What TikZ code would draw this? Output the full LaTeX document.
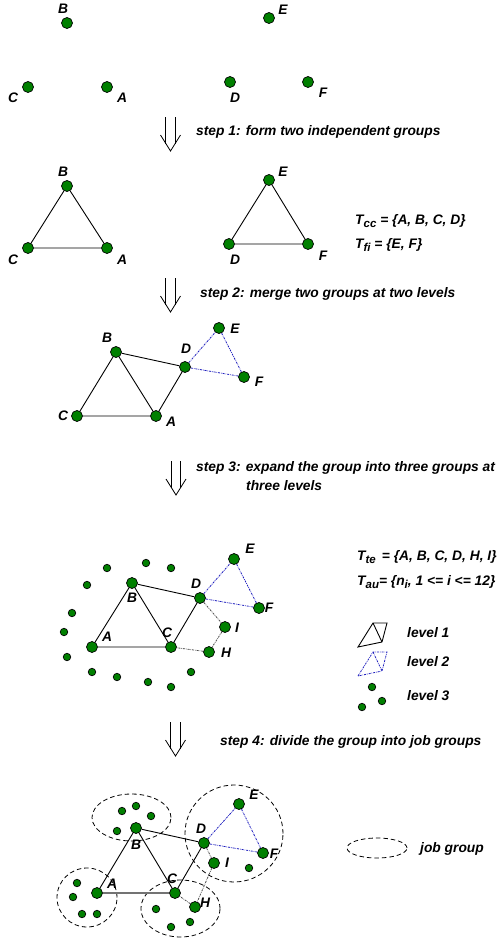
\documentclass[tikz,border=0pt]{standalone}
\usepackage{fontspec}
\setmainfont{Liberation Sans}
\usepackage{xcolor}
\definecolor{cHost}  {RGB}{0,128,0}
\definecolor{cLvlTwo}{RGB}{30,30,190}
\usepackage{tikz}
\usetikzlibrary{shapes.geometric}
\newcommand{\lowsub}[1]{\raisebox{-3.5pt}{\fontsize{11.5}{12}\selectfont #1}}
\tikzset{
  host/.style     = {circle, draw=black, fill=cHost, line width=0.7pt,
                     inner sep=0pt, minimum size=11pt},
  peer/.style     = {host, minimum size=7.5pt},
  lbl/.style      = {font=\fontsize{13.8}{19}\selectfont\bfseries\itshape,
                     inner sep=0pt},
  txt/.style      = {lbl, anchor=west, align=left},
  lvlone/.style   = {line width=0.9pt, black},
  lvltwo/.style   = {line width=0.8pt, cLvlTwo,
                     dash pattern=on 2pt off 1pt on 0.6pt off 1pt},
  lvlthree/.style = {line width=0.8pt, black!70,
                     dash pattern=on 2pt off 1pt on 0.6pt off 1pt},
  jobgrp/.style   = {ellipse, draw, dash pattern=on 4.5pt off 3pt,
                     line width=0.8pt, inner sep=0pt},
  stepdown/.pic   = {\draw[line width=0.8pt] (-4.7,0) -- (-4.7,26.5)
                       (4.7,0) -- (4.7,26.5);
                     \draw[line width=0.8pt] (-10,18) -- (0,34) -- (10,18);},
}

\begin{document}
\begin{tikzpicture}[x=1pt, y=-1pt]
  \useasboundingbox (0,0) rectangle (496,940);

  % scattered hosts
  \node[host] (b1) at (67,23)  {};
  \node[host] (e1) at (269,18) {};
  \node[host] (c1) at (28,87)  {};
  \node[host] (a1) at (107,87) {};
  \node[host] (d1) at (230,82) {};
  \node[host] (f1) at (308,82) {};
  \node[lbl] (b1l) at (63,9)   {B};
  \node[lbl] (e1l) at (283,10) {E};
  \node[lbl] (c1l) at (13,98)  {C};
  \node[lbl] (a1l) at (122,98) {A};
  \node[lbl] (d1l) at (235,98) {D};
  \node[lbl] (f1l) at (323,93) {F};

  \pic (arr1) at (170.5,117) {stepdown};
  \node[txt] (st1) at (196,132) {step 1: form two independent groups};

  % two independent groups
  \node[host] (b2) at (67,186)  {};
  \node[host] (c2) at (28,248)  {};
  \node[host] (a2) at (107,248) {};
  \node[host] (e2) at (269,180) {};
  \node[host] (d2) at (229,244) {};
  \node[host] (f2) at (308,244) {};
  \node[lbl] (b2l) at (63,172)  {B};
  \node[lbl] (c2l) at (13,260)  {C};
  \node[lbl] (a2l) at (122,260) {A};
  \node[lbl] (e2l) at (283,172) {E};
  \node[lbl] (d2l) at (235,260) {D};
  \node[lbl] (f2l) at (323,256) {F};
  \draw[lvlone] (a2) -- (b2) -- (c2) -- (a2);
  \draw[lvlone] (d2) -- (e2) -- (f2) -- (d2);
  \node[txt] (tcc) at (355,221) {T\lowsub{cc} = \{A, B, C, D\}};
  \node[txt] (tfi) at (355,245) {T\lowsub{fi} = \{E, F\}};

  \pic (arr2) at (170.5,278) {stepdown};
  \node[txt] (st2) at (200,294) {step 2: merge two groups at two levels};

  % merged at two levels
  \node[host] (b3) at (116,352) {};
  \node[host] (c3) at (77,416)  {};
  \node[host] (a3) at (156,416) {};
  \node[host] (d3) at (185,367) {};
  \node[host] (e3) at (219,328) {};
  \node[host] (f3) at (244,377) {};
  \node[lbl] (b3l) at (107,338) {B};
  \node[lbl] (c3l) at (63,416)  {C};
  \node[lbl] (a3l) at (171,422) {A};
  \node[lbl] (d3l) at (186,349) {D};
  \node[lbl] (e3l) at (235,329) {E};
  \node[lbl] (f3l) at (259,382) {F};
  \draw[lvlone] (a3) -- (b3) -- (c3) -- (a3);
  \draw[lvlone] (b3) -- (d3) -- (a3);
  \draw[lvltwo] (d3) -- (e3) -- (f3) -- (d3);

  \pic (arr3) at (176,461) {stepdown};
  \node[txt] (st3) at (196,476.5)
        {step 3: expand the group into three groups at\\
         \hspace*{50pt}three levels};

  % three levels
  \node[host] (b4) at (132,583) {};
  \node[host] (a4) at (92,647)  {};
  \node[host] (c4) at (171,647) {};
  \node[host] (d4) at (200,598) {};
  \node[host] (e4) at (234,559) {};
  \node[host] (f4) at (259,608) {};
  \node[host] (i4) at (225,627) {};
  \node[host] (h4) at (209,652) {};
  \foreach \x/\y [count=\i] in {107/568, 146/563, 171/568, 87/585, 72/613,
      64/632, 67/657, 92/672, 117/677, 148/682, 171/687, 191/672}
    \node[peer] (n\i) at (\x,\y) {};
  \node[lbl] (e4l) at (250,549) {E};
  \node[lbl] (d4l) at (196,584) {D};
  \node[lbl] (b4l) at (132,598) {B};
  \node[lbl] (f4l) at (269,608) {F};
  \node[lbl] (i4l) at (237,628) {I};
  \node[lbl] (a4l) at (107,637) {A};
  \node[lbl] (c4l) at (167,633) {C};
  \node[lbl] (h4l) at (226,653) {H};
  \draw[lvlone] (a4) -- (b4) -- (c4) -- (a4);
  \draw[lvlone] (b4) -- (d4) -- (c4);
  \draw[lvltwo] (d4) -- (e4) -- (f4) -- (d4);
  \draw[lvlthree] (d4) -- (i4) -- (h4) -- (c4);
  \node[txt] (tte) at (357,557) {T\lowsub{te}\, = \{A, B, C, D, H, I\}};
  \node[txt] (tau) at (357,582) {T\lowsub{au}= \{n\lowsub{i}, 1 <= i <= 12\}};

  % legend
  \draw[lvlone] (358,647) -- (373,623) -- (387,623) -- (382,642) -- cycle
                (373,623) -- (382,642);
  \draw[lvltwo] (358,676) -- (373,652) -- (387,652) -- (382,671) -- cycle
                (373,652) -- (382,671);
  \node[peer] (lg1) at (372,687) {};
  \node[peer] (lg2) at (362,707) {};
  \node[peer] (lg3) at (382,701) {};
  \node[txt] (lv1) at (407,633) {level 1};
  \node[txt] (lv2) at (407,662) {level 2};
  \node[txt] (lv3) at (407,696) {level 3};

  \pic (arr4) at (175.5,722) {stepdown};
  \node[txt] (st4) at (220,742) {step 4: divide the group into job groups};

  % job groups
  \node[jobgrp, minimum width=79pt, minimum height=47pt] (g1) at (131.5,817.5) {};
  \node[jobgrp, minimum width=60pt, minimum height=59pt] (g2) at (87,897.5)    {};
  \node[jobgrp, minimum width=79pt, minimum height=57pt] (g3) at (180.5,908.5) {};
  \node[jobgrp, minimum width=98pt, minimum height=97pt] (g4) at (234,833.5)   {};
  \node[host] (b5) at (136,828) {};
  \node[host] (a5) at (97,893)  {};
  \node[host] (c5) at (175,893) {};
  \node[host] (d5) at (204,843) {};
  \node[host] (e5) at (239,804) {};
  \node[host] (f5) at (263,853) {};
  \node[host] (i5) at (214,863) {};
  \node[host] (h5) at (195,907) {};
  \foreach \x/\y [count=\i] in {122/811, 136/806, 151/816, 117/831, 77/883,
      73/897, 82/914, 97/914, 156/909, 171/927, 190/922, 249/868}
    \node[peer] (m\i) at (\x,\y) {};
  \node[lbl] (e5l) at (254,795) {E};
  \node[lbl] (d5l) at (201,829) {D};
  \node[lbl] (b5l) at (136,845) {B};
  \node[lbl] (f5l) at (274,854) {F};
  \node[lbl] (i5l) at (227,863) {I};
  \node[lbl] (a5l) at (112,884) {A};
  \node[lbl] (c5l) at (172,879) {C};
  \node[lbl] (h5l) at (205,903) {H};
  \draw[lvlone] (a5) -- (b5) -- (c5);
  \draw[lvlone] (b5) -- (d5) -- (c5);
  \draw[black!55, line width=1.6pt] (a5) -- (c5);
  \draw[lvltwo] (d5) -- (e5) -- (f5) -- (d5);
  \draw[lvlthree] (d5) -- (i5) -- (h5) -- (c5);
  \node[jobgrp, minimum width=60pt, minimum height=20pt] (lg4) at (377,848) {};
  \node[txt] (jg) at (420,849) {job group};
\end{tikzpicture}
\end{document}
